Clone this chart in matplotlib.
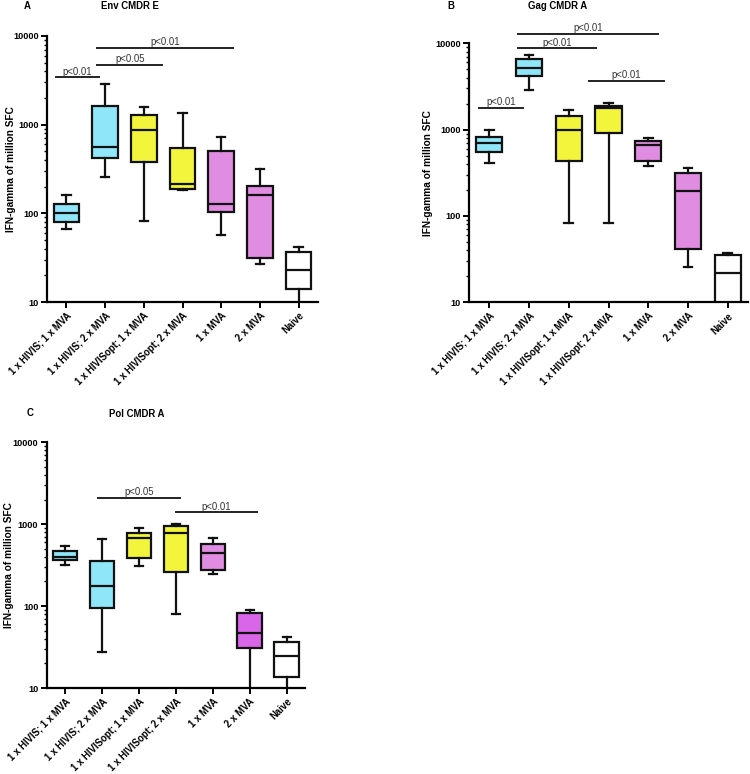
import matplotlib
matplotlib.use("Agg")
import matplotlib.pyplot as plt
from matplotlib.ticker import LogLocator, FixedLocator, NullFormatter

plt.rcParams['font.family'] = ['Liberation Sans', 'DejaVu Sans']

groups = ['1 x HIVIS; 1 x MVA', '1 x HIVIS; 2 x MVA', '1 x HIVISopt; 1 x MVA',
          '1 x HIVISopt; 2 x MVA', '1 x MVA', '2 x MVA', 'Naive']

# five-number summaries per group: whisker low, q1, median, q3, whisker high
env_stats = [
    (66, 79, 102, 128, 161),
    (257, 426, 565, 1620, 2880),
    (83, 384, 875, 1285, 1600),
    (181, 187, 215, 546, 1345),
    (57, 103, 127, 506, 725),
    (27, 31, 162, 204, 313),
    (9, 14.2, 22.9, 36.4, 41.7),
]
gag_stats = [
    (414, 550, 705, 820, 1000),
    (2880, 4180, 5130, 6530, 7320),
    (84, 430, 1000, 1450, 1674),
    (84, 906, 1794, 1892, 2018),
    (379, 436, 668, 738, 793),
    (25.6, 41, 193, 317, 356),
    (9, 9.5, 21.6, 35.5, 37.2),
]
pol_stats = [
    (319, 367, 403, 473, 535),
    (27.7, 96, 177, 357, 656),
    (305, 388, 675, 791, 910),
    (79, 260, 791, 955, 1008),
    (248, 275, 439, 575, 681),
    (9, 30.5, 46.9, 82, 90),
    (9, 13.5, 24.8, 36, 41.9),
]

env_colors = ['#8ee6f8', '#8ee6f8', '#f2f53c', '#f2f53c', '#e08ce0', '#e08ce0', '#ffffff']
gag_colors = ['#8ee6f8', '#8ee6f8', '#f2f53c', '#f2f53c', '#e08ce0', '#e08ce0', '#ffffff']
pol_colors = ['#8ee6f8', '#8ee6f8', '#f2f53c', '#f2f53c', '#e08ce0', '#d966e8', '#ffffff']

# significance brackets: (x start, x end, height, label)
env_sig = [(-0.28, 0.85, 3420, 'p<0.01'), (0.79, 2.48, 4740, 'p<0.05'), (0.79, 4.3, 7400, 'p<0.01')]
gag_sig = [(-0.25, 0.85, 1780, 'p<0.01'), (0.73, 2.68, 8750, 'p<0.01'),
           (0.73, 4.25, 12800, 'p<0.01'), (2.5, 4.4, 3660, 'p<0.01')]
pol_sig = [(0.9, 3.1, 2115, 'p<0.05'), (3.0, 5.2, 1400, 'p<0.01')]


def draw_panel(ax, stats, colors, sig, label_x):
    bxp = []
    for s in stats:
        bxp.append({'whislo': s[0], 'q1': s[1], 'med': s[2], 'q3': s[3], 'whishi': s[4], 'fliers': []})
    art = ax.bxp(bxp, positions=range(len(stats)), widths=0.66, patch_artist=True,
                 showfliers=False, manage_ticks=False,
                 boxprops=dict(linewidth=1.6, edgecolor='#111111'),
                 medianprops=dict(color='#111111', linewidth=1.6),
                 whiskerprops=dict(color='#111111', linewidth=1.6),
                 capprops=dict(color='#111111', linewidth=1.6), capwidths=0.22)
    for patch, c in zip(art['boxes'], colors):
        patch.set_facecolor(c)
    ax.set_yscale('log')
    ax.set_ylim(10, 10000)
    ax.set_xlim(-0.5, 6.5)
    ax.yaxis.set_major_locator(FixedLocator([10, 100, 1000, 10000]))
    ax.yaxis.set_minor_locator(LogLocator(base=10, subs=range(2, 10)))
    ax.yaxis.set_minor_formatter(NullFormatter())
    ax.set_yticklabels(['10', '100', '1000', '10000'], fontsize=6.6, fontweight='bold')
    ax.set_xticks(range(len(groups)))
    ax.set_xticklabels(groups, rotation=45, ha='right', va='top', rotation_mode='anchor',
                       fontsize=6.9, fontweight='bold')
    ax.tick_params(axis='both', which='major', length=4, width=1.4, pad=2)
    ax.tick_params(axis='y', which='minor', length=2.5, width=1.0)
    ax.spines['top'].set_visible(False)
    ax.spines['right'].set_visible(False)
    ax.spines['left'].set_linewidth(1.6)
    ax.spines['bottom'].set_linewidth(1.6)
    ax.set_ylabel('IFN-gamma of million SFC', fontsize=7.3, fontweight='bold')
    ax.yaxis.set_label_coords(label_x, 0.5)
    for x0, x1, h, lab in sig:
        ax.plot([x0, x1], [h, h], color='#222222', linewidth=1.4, clip_on=False)
        ax.text((x0 + x1) / 2, h * 1.02, lab, ha='center', va='bottom', fontsize=6.9,
                color='#333333', clip_on=False)
    return ax


fig = plt.figure(figsize=(7.5, 7.74), dpi=100)

axA = fig.add_axes([0.0627, 0.6098, 0.3613, 0.3437])
draw_panel(axA, env_stats, env_colors, env_sig, -0.116)
axB = fig.add_axes([0.6257, 0.6094, 0.3713, 0.3346])
draw_panel(axB, gag_stats, gag_colors, gag_sig, -0.132)
axC = fig.add_axes([0.0623, 0.1111, 0.3444, 0.3175])
draw_panel(axC, pol_stats, pol_colors, pol_sig, -0.128)

fig.text(130 / 750, 1 - 6 / 774, 'Env CMDR E', ha='center', va='center', fontsize=6.9, fontweight='bold')
fig.text(558 / 750, 1 - 6 / 774, 'Gag CMDR A', ha='center', va='center', fontsize=6.9, fontweight='bold')
fig.text(137 / 750, 1 - 414 / 774, 'Pol CMDR A', ha='center', va='center', fontsize=6.9, fontweight='bold')
fig.text(27 / 750, 1 - 6 / 774, 'A', ha='center', va='center', fontsize=6.9, fontweight='bold')
fig.text(451 / 750, 1 - 6 / 774, 'B', ha='center', va='center', fontsize=6.9, fontweight='bold')
fig.text(30 / 750, 1 - 413 / 774, 'C', ha='center', va='center', fontsize=6.9, fontweight='bold')

fig.savefig('out.png', dpi=100, facecolor='white')
